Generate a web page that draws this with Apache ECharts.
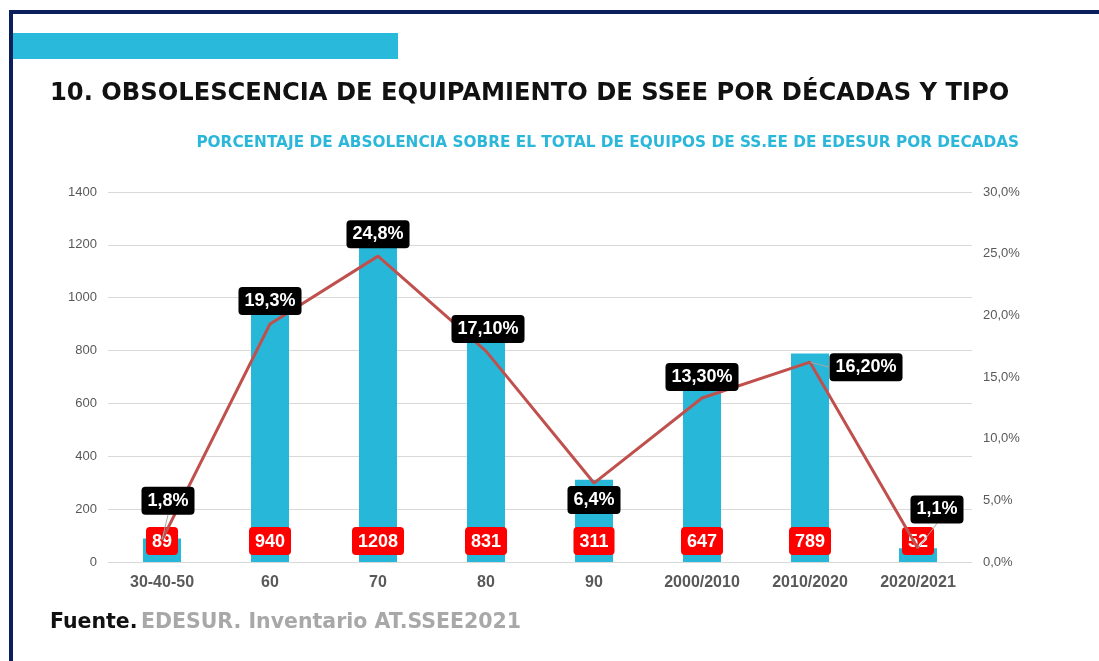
<!DOCTYPE html>
<html>
<head>
<meta charset="utf-8">
<script src="https://cdn.jsdelivr.net/npm/echarts@6/dist/echarts.min.js"></script>
<style>
  html, body { margin: 0; padding: 0; background: #fff; }
  #chart { width: 1099px; height: 661px; }
</style>
</head>
<body>
<div id="chart"></div>
<script>
// datos
const categories = ['30-40-50', '60', '70', '80', '90', '2000/2010', '2010/2020', '2020/2021']
const equipos = [89, 940, 1208, 831, 311, 647, 789, 52]
const porcentaje = [1.8, 19.3, 24.8, 17.1, 6.4, 13.3, 16.2, 1.1]
const porcentajeLabels = ['1,8%', '19,3%', '24,8%', '17,10%', '6,4%', '13,30%', '16,20%', '1,1%']

// desplazamiento de etiquetas de la linea (dx, dy) y guias
const labelShift = [[6, -39], [0, -23], [0, -22], [2, -22], [0, 17], [0, -21], [56, 5], [19, -39]]
const withGuide = [0, 6, 7]

const chart = echarts.init(document.getElementById('chart'))

const axisText = {
  color: '#595959',
  fontFamily: 'Liberation Sans',
  fontSize: 13,
}

const option = {
  animation: false,
  graphic: [
    { type: 'rect', shape: { x: 9, y: 10, width: 1090, height: 4 }, style: { fill: '#0b1f5c' } },
    { type: 'rect', shape: { x: 9, y: 10, width: 4, height: 651 }, style: { fill: '#0b1f5c' } },
    { type: 'rect', shape: { x: 13, y: 33, width: 385, height: 26 }, style: { fill: '#29b9da' } },
    {
      type: 'text',
      left: 50,
      top: 82,
      style: {
        text: '10. OBSOLESCENCIA DE EQUIPAMIENTO DE SSEE POR DÉCADAS Y TIPO',
        fill: '#111',
        font: 'bold 24.2px "DejaVu Sans"',
      },
    },
    {
      type: 'text',
      right: 80,
      top: 136,
      style: {
        text: 'PORCENTAJE DE ABSOLENCIA SOBRE EL TOTAL DE EQUIPOS DE SS.EE DE EDESUR POR DECADAS',
        fill: '#2ab7d9',
        font: 'bold 15.3px "DejaVu Sans"',
      },
    },
    {
      type: 'text',
      left: 50,
      top: 612,
      style: {
        text: '{a|Fuente.} {b|EDESUR. Inventario AT.SSEE2021}',
        rich: {
          a: { fill: '#111', font: 'bold 20.5px "DejaVu Sans"' },
          b: { fill: '#a8a8a8', font: 'bold 20.5px "DejaVu Sans"' },
        },
      },
    },
  ],
  grid: {
    left: 108,
    right: 127,
    top: 192,
    bottom: 99,
  },
  xAxis: {
    type: 'category',
    data: categories,
    axisTick: { show: false },
    axisLine: { lineStyle: { color: '#d9d9d9' } },
    axisLabel: {
      color: '#595959',
      fontFamily: 'Liberation Sans',
      fontWeight: 'bold',
      fontSize: 16,
      margin: 13,
    },
  },
  yAxis: [
    {
      type: 'value',
      min: 0,
      max: 1400,
      interval: 200,
      axisLabel: { ...axisText, margin: 11, formatter: v => String(v) },
      splitLine: { lineStyle: { color: '#d9d9d9' } },
    },
    {
      type: 'value',
      min: 0,
      max: 30,
      interval: 5,
      axisLabel: {
        ...axisText,
        margin: 11,
        formatter: v => v.toFixed(1).replace('.', ',') + '%',
      },
      splitLine: { show: false },
    },
  ],
  series: [
    {
      type: 'bar',
      data: equipos,
      barWidth: 38,
      itemStyle: { color: '#27b8d9' },
      label: {
        show: true,
        position: 'insideBottom',
        distance: 7,
        color: '#fff',
        backgroundColor: '#ff0000',
        borderRadius: 4,
        padding: [6, 6, 4, 6],
        fontFamily: 'Liberation Sans',
        fontWeight: 'bold',
        fontSize: 18,
      },
      z: 2,
    },
    {
      type: 'line',
      yAxisIndex: 1,
      data: porcentaje.map((v, i) => ({
        value: v,
        labelLine: { show: withGuide.includes(i) },
      })),
      symbol: 'circle',
      symbolSize: 1,
      showAllSymbol: true,
      itemStyle: { color: '#c0504d' },
      lineStyle: { color: '#c0504d', width: 3 },
      label: {
        show: true,
        position: 'inside',
        formatter: p => porcentajeLabels[p.dataIndex],
        color: '#fff',
        backgroundColor: '#000',
        borderRadius: 4,
        padding: [6, 6, 4, 6],
        fontFamily: 'Liberation Sans',
        fontWeight: 'bold',
        fontSize: 18,
      },
      labelLine: {
        show: false,
        lineStyle: { color: '#a6a6a6', width: 1 },
      },
      labelLayout: p => ({
        dx: labelShift[p.dataIndex][0],
        dy: labelShift[p.dataIndex][1],
      }),
      z: 3,
    },
  ],
}

chart.setOption(option)
</script>
</body>
</html>
